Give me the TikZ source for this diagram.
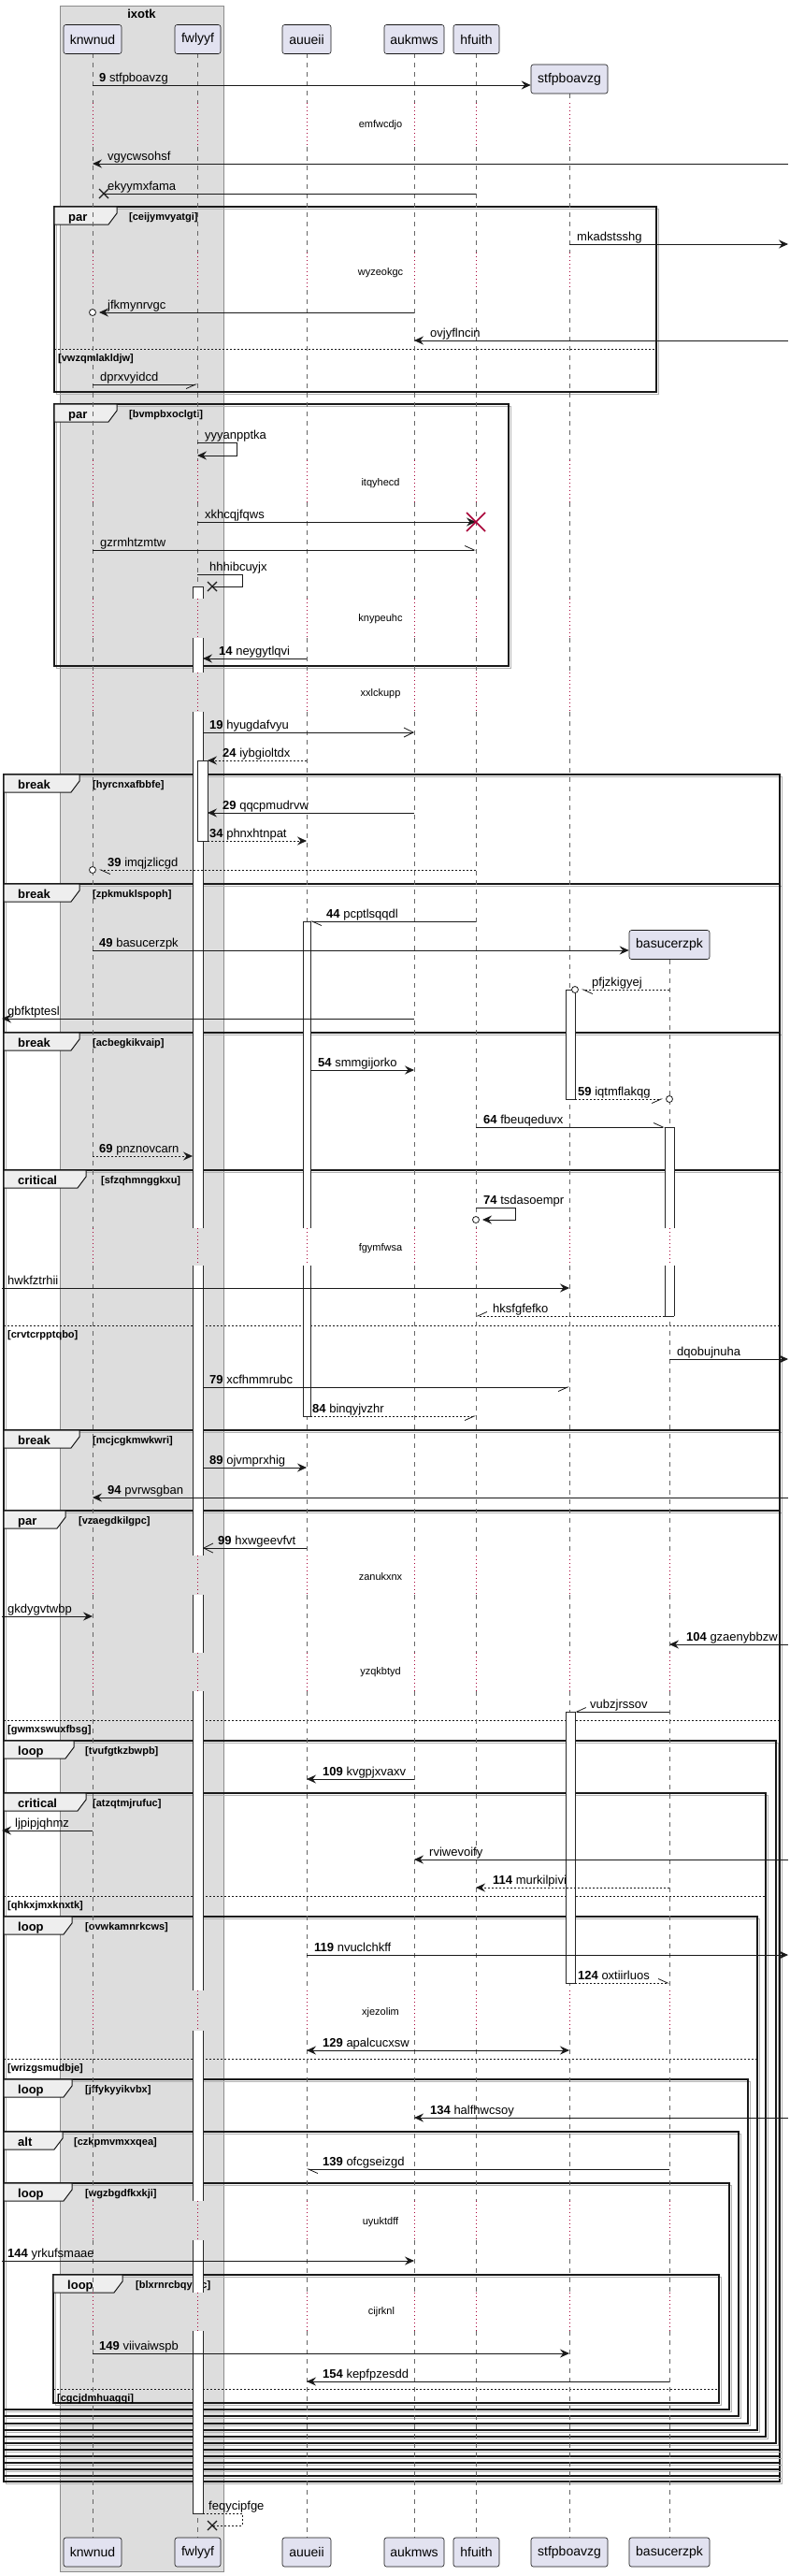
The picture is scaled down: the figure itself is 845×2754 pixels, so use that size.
\documentclass[tikz,border=0pt]{standalone}
\usepackage{fontspec}
\setmainfont{Liberation Sans}
\usetikzlibrary{arrows.meta}
\definecolor{partbg}{RGB}{226,226,240}
\definecolor{partfg}{RGB}{24,24,24}
\definecolor{boxbg}{RGB}{221,221,221}
\definecolor{dlyred}{RGB}{168,0,54}
\definecolor{tabbg}{RGB}{238,238,238}
\newcounter{mlab}
\newcommand\nb[1]{\textbf{#1}~}
\newcommand\msg[6]{\draw[ln,#4] (#2 |- 0,#1) -- (#3 |- 0,#1);\stepcounter{mlab}\node[lbl] (ml\arabic{mlab}) at (#5,#1-4) {#6};}
\newcommand\frm[9]{%
 \draw[frsh] (#2+2,#3+2) rectangle (#4+2,#5+2);
 \draw[frl] (#2,#3) rectangle (#4,#5);
 \draw[tabl] (#2,#3) -- (#6,#3) -- (#6,#3+7) -- (#6-9,#3+19) -- (#2,#3+19) -- cycle;
 \node[kw] (#1k) at (#2+15,#3+15) {#7};
 \node[glbl] (#1l) at (#9,#3+14) {[#8]};}
\newcommand\els[5]{\draw[elsl] (#1,#3) -- (#2,#3);\node[glbl] (#4) at (#1+4,#3+13) {[#5]};}
\newcommand\lifeline[2]{%
 \foreach \ya/\yb in {57/110,157/270,310/492,537/640,682/719,761/1313,1353/1663,1705/1767,1808/2128,2171/2353,2395/2451,2492/2713}{%
   \ifdim\yb pt>#2pt
     \pgfmathsetmacro\lla{max(\ya,#2)}%
     \draw[lifel] (#1|-0,\lla) -- (#1|-0,\yb);%
   \fi}%
 \foreach \ya/\yb in {110/157,270/310,492/537,640/682,719/761,1313/1353,1663/1705,1767/1808,2128/2171,2353/2395,2451/2492}{%
   \ifdim\ya pt>#2pt \draw[dlyl] (#1|-0,\ya) -- (#1|-0,\yb);\fi}}
\newcommand\actseg[4]{\fill[white] (#1,#3) rectangle (#2,#4);\draw[actl] (#1,#3) -- (#1,#4) (#2,#3) -- (#2,#4);}
\newcommand\actcap[3]{\draw[actl] (#1,#3) -- (#2,#3);}
\newcommand\lostx[1]{\draw[line width=1.3pt,black!90] ([shift={(-5,-5)}]#1) -- ([shift={(5,5)}]#1) ([shift={(-5,5)}]#1) -- ([shift={(5,-5)}]#1);}
\newcommand\tipcirc[1]{\draw[line width=0.8pt,black!90,fill=white] (#1) circle[radius=3.5pt];}
\begin{document}
\begin{tikzpicture}[x=1pt,y=-1pt,
 part/.style={draw=partfg,fill=partbg,rounded corners=2.5pt,line width=0.6pt,inner sep=0pt,minimum height=31pt,font=\fontsize{14}{16}\selectfont},
 lbl/.style={anchor=base west,inner sep=0pt,font=\fontsize{13}{15}\selectfont},
 dly/.style={inner sep=0pt,font=\fontsize{11}{13}\selectfont},
 kw/.style={anchor=base west,inner sep=0pt,font=\bfseries\fontsize{13}{15}\selectfont},
 glbl/.style={anchor=base west,inner sep=0pt,font=\bfseries\fontsize{11}{13}\selectfont},
 lifel/.style={draw=black!60,line width=0.5pt,dash pattern=on 5pt off 5pt},
 dlyl/.style={draw=dlyred,line width=0.7pt,dash pattern=on 1pt off 3pt},
 actl/.style={draw=black!85,line width=0.7pt},
 frl/.style={draw=black!90,line width=1.5pt},
 frsh/.style={draw=black!30,line width=1pt},
 tabl/.style={draw=black!90,line width=1pt,fill=tabbg},
 elsl/.style={draw=black!90,line width=0.8pt,dash pattern=on 2pt off 2pt},
 ln/.style={draw=black!90,line width=0.8pt},
 afill/.style={-{Stealth[length=10pt,width=9pt,inset=3.5pt]}},
 aopen/.style={-{Straight Barb[length=10pt,width=10pt]}},
 ahl/.style={-{Straight Barb[left,length=10pt,width=9pt]}},
 ahr/.style={-{Straight Barb[right,length=10pt,width=9pt]}},
 abi/.style={{Stealth[length=10pt,width=9pt,inset=3.5pt]}-{Stealth[length=10pt,width=9pt,inset=3.5pt]}},
 adash/.style={dash pattern=on 2pt off 2pt}]
\useasboundingbox (0,0) rectangle (845,2754);
\fill[white] (0,0) rectangle (845,2754);
% lifeline x positions
\coordinate (Lkn) at (99,0);
\coordinate (Lfw) at (211,0);
\coordinate (Lau) at (328,0);
\coordinate (Lak) at (443,0);
\coordinate (Lhf) at (509,0);
\coordinate (Lst) at (609,0);
\coordinate (Lba) at (716,0);
\coordinate (Ledge) at (2,0);
\coordinate (Redge) at (843,0);
\coordinate (AfwL) at (206,0);
\coordinate (AfwR) at (217,0);
\coordinate (AfnR) at (222,0);
\coordinate (AauR) at (332,0);
\coordinate (AstR) at (615,0);
\coordinate (AbaL) at (711,0);
\coordinate (Ckn) at (106,0);
\coordinate (Cst) at (622,0);
\coordinate (Cba) at (709,0);
\coordinate (Chf) at (516,0);
% box ixotk
\draw[draw=black!45,fill=boxbg,line width=0.5pt] (64,6) rectangle (239,2749);
\node[kw,anchor=base] (Tix) at (151.5,20) {ixotk};
% frames
\frm{Fa}{58}{221}{702}{419}{125}{par}{ceijymvyatgi}{138}
\els{58}{702}{373}{Ea}{vwzqmlakldjw}
\frm{Fb}{58}{432}{544}{712}{125}{par}{bvmpbxoclgti}{138}
\frm{Fc}{4}{828}{834}{2653}{85}{break}{hyrcnxafbbfe}{99}
\frm{Fd}{4}{945}{834}{2647}{85}{break}{zpkmuklspoph}{99}
\frm{Fe}{4}{1104}{834}{2640}{85}{break}{acbegkikvaip}{99}
\frm{Ff}{4}{1251}{834}{2633}{92}{critical}{sfzqhmnggkxu}{108}
\els{4}{834}{1417}{Ef}{crvtcrpptqbo}
\frm{Fg}{4}{1529}{834}{2626}{85}{break}{mcjcgkmwkwri}{99}
\frm{Fh}{4}{1615}{834}{2619}{70}{par}{vzaegdkilgpc}{84}
\els{4}{834}{1839}{Eh}{gwmxswuxfbsg}
\frm{Fi}{4}{1861}{830}{2612}{79}{loop}{tvufgtkzbwpb}{91}
\frm{Fj}{4}{1917}{819}{2605}{92}{critical}{atzqtmjrufuc}{99}
\els{4}{819}{2027}{Ej}{qhkxjmxknxtk}
\frm{Fk}{4}{2049}{810}{2598}{77}{loop}{ovwkamnrkcws}{91}
\els{4}{810}{2201}{Ek}{wrizgsmudbje}
\frm{Fl}{4}{2223}{800}{2591}{77}{loop}{jffykyyikvbx}{91}
\frm{Fm}{4}{2279}{790}{2583}{67}{alt}{czkpmvmxxqea}{79}
\frm{Fn}{4}{2334}{780}{2576}{77}{loop}{wgzbgdfkxkji}{91}
\frm{Fo}{57}{2432}{769}{2569}{131}{loop}{blxrnrcbqymc}{145}
\els{57}{769}{2554}{Eo}{cgcjdmhuagqi}
% lifelines
\lifeline{Lkn}{57}
\lifeline{Lfw}{57}
\lifeline{Lau}{57}
\lifeline{Lak}{57}
\lifeline{Lhf}{57}
\lifeline{Lst}{100}
\lifeline{Lba}{1026}
% activations
\foreach \ya/\yb in {627/640,682/719,761/1313,1353/1663,1705/1767,1808/2128,2171/2353,2395/2451,2492/2687}{\actseg{206}{217}{\ya}{\yb}}
\actcap{206}{217}{627}\actcap{206}{217}{2687}
\actseg{211}{222}{813}{899}\actcap{211}{222}{813}\actcap{211}{222}{899}
\actseg{324}{332}{985}{1313}\actseg{324}{332}{1353}{1514}\actcap{324}{332}{985}\actcap{324}{332}{1514}
\actseg{605}{615}{1058}{1175}\actcap{605}{615}{1058}\actcap{605}{615}{1175}
\actseg{605}{615}{1830}{2120}\actcap{605}{615}{1830}\actcap{605}{615}{2120}
\actseg{711}{721}{1205}{1313}\actseg{711}{721}{1353}{1407}\actcap{711}{721}{1205}\actcap{711}{721}{1407}
% participants
\node[part,minimum width=62pt] (Hkn) at (99,42) {knwnud};
\node[part,minimum width=49pt] (Hfw) at (211.5,42) {fwlyyf};
\node[part,minimum width=52pt] (Hau) at (328,42) {auueii};
\node[part,minimum width=64pt] (Hak) at (443,42) {aukmws};
\node[part,minimum width=49pt] (Hhf) at (509.5,42) {hfuith};
\node[part,minimum width=82pt] (Hst) at (609,84.5) {stfpboavzg};
\node[part,minimum width=86pt] (Hba) at (716,1010) {basucerzpk};
\node[part,minimum width=62pt] (Gkn) at (99,2728.5) {knwnud};
\node[part,minimum width=49pt] (Gfw) at (211.5,2728.5) {fwlyyf};
\node[part,minimum width=52pt] (Gau) at (328,2728.5) {auueii};
\node[part,minimum width=64pt] (Gak) at (443,2728.5) {aukmws};
\node[part,minimum width=49pt] (Ghf) at (509.5,2728.5) {hfuith};
\node[part,minimum width=82pt] (Gst) at (609,2728.5) {stfpboavzg};
\node[part,minimum width=86pt] (Gba) at (716,2728.5) {basucerzpk};
% messages
\msg{91}{Lkn}{Hst.west}{afill}{106}{\nb{9}stfpboavzg}
\msg{175}{Redge}{Lkn}{afill}{115}{vgycwsohsf}
\coordinate (LXe) at (111,207);
\draw[ln] (Lhf|-0,207) -- (LXe);\lostx{LXe}
\node[lbl] (mlE) at (115,203) {ekyymxfama};
\msg{261}{Lst}{Redge}{afill}{617}{mkadstsshg}
\draw[ln,afill] (Lak|-0,334) -- (Ckn|-0,334);\tipcirc{Lkn|-0,334}
\node[lbl] (mlJ) at (115,330) {jfkmynrvgc};
\msg{364}{Redge}{Lak}{afill}{460}{ovjyflncin}
\msg{411}{Lkn}{Lfw}{ahr}{107}{dprxvyidcd}
\draw[ln,afill] (Lfw|-0,473) -- ++(42,0) -- ++(0,14) -- (Lfw|-0,487);
\node[lbl] (mlY) at (219,469) {yyyanpptka};
\msg{558}{Lfw}{Lhf}{afill}{219}{xkhcqjfqws}
\coordinate (DXh) at (509,558);
\draw[dlyred,line width=1.6pt] ([shift={(-10,-10)}]DXh) -- ([shift={(10,10)}]DXh) ([shift={(-10,10)}]DXh) -- ([shift={(10,-10)}]DXh);
\msg{588}{Lkn}{Lhf}{ahl}{107}{gzrmhtzmtw}
\coordinate (LXh) at (227,627);
\draw[ln] (Lfw|-0,614) -- ++(48,0) -- ++(0,13) -- (LXh);\lostx{LXh}
\node[lbl] (mlH) at (224,610) {hhhibcuyjx};
\msg{704}{Lau}{AfwR}{afill}{234}{\nb{14}neygytlqvi}
\msg{783}{AfwR}{Lak}{aopen}{224}{\nb{19}hyugdafvyu}
\msg{813}{Lau}{AfnR}{afill,adash}{238}{\nb{24}iybgioltdx}
\msg{869}{Lak}{AfnR}{afill}{238}{\nb{29}qqcpmudrvw}
\msg{899}{AfnR}{Lau}{afill,adash}{224}{\nb{34}phnxhtnpat}
\draw[ln,adash,ahl] (Lhf|-0,930) -- (Ckn|-0,930);\tipcirc{Lkn|-0,930}
\node[lbl] (mlI) at (115,926) {\nb{39}imqjzlicgd};
\msg{985}{Lhf}{AauR}{ahl}{349}{\nb{44}pcptlsqqdl}
\msg{1016}{Lkn}{Hba.west}{afill}{106}{\nb{49}basucerzpk}
\draw[ln,adash,ahl] (Lba|-0,1058) -- (Cst|-0,1058);\tipcirc{AstR|-0,1058}
\node[lbl] (mlP) at (633,1054) {pfjzkigyej};
\msg{1089}{Lak}{Ledge}{afill}{8}{gbfktptesl}
\msg{1144}{AauR}{Lak}{afill}{340}{\nb{54}smmgijorko}
\draw[ln,adash,ahr] (AstR|-0,1175) -- (Cba|-0,1175);\tipcirc{Lba|-0,1175}
\node[lbl] (mlQ) at (618,1171) {\nb{59}iqtmflakqg};
\msg{1205}{Lhf}{AbaL}{ahl}{517}{\nb{64}fbeuqeduvx}
\msg{1236}{Lkn}{AfwL}{afill,adash}{106}{\nb{69}pnznovcarn}
\draw[ln,afill] (Lhf|-0,1291) -- ++(42,0) -- ++(0,13) -- (Chf|-0,1304);\tipcirc{Lhf|-0,1304}
\node[lbl] (mlT) at (517,1287) {\nb{74}tsdasoempr};
\msg{1377}{Ledge}{Lst}{afill}{8}{hwkfztrhii}
\msg{1407}{AbaL}{Lhf}{ahr,adash}{527}{hksfgfefko}
\msg{1453}{Lba}{Redge}{afill}{724}{dqobujnuha}
\msg{1483}{AfwR}{Lst}{ahr}{224}{\nb{79}xcfhmmrubc}
\msg{1514}{AauR}{Lhf}{ahr,adash}{334}{\nb{84}binqyjvzhr}
\msg{1569}{AfwR}{Lau}{afill}{224}{\nb{89}ojvmprxhig}
\msg{1601}{Redge}{Lkn}{afill}{115}{\nb{94}pvrwsgban}
\msg{1655}{Lau}{AfwR}{aopen}{233}{\nb{99}hxwgeevfvt}
\msg{1728}{Ledge}{Lkn}{afill}{8}{gkdygvtwbp}
\msg{1758}{Redge}{Lba}{afill}{734}{\nb{104}gzaenybbzw}
\msg{1830}{Lba}{AstR}{ahr}{631}{vubzjrssov}
\msg{1902}{Lak}{Lau}{afill}{345}{\nb{109}kvgpjxvaxv}
\msg{1957}{Lkn}{Ledge}{afill}{16}{ljpipjqhmz}
\msg{1988}{Redge}{Lak}{afill}{459}{rviwevoify}
\msg{2018}{Lba}{Lhf}{afill,adash}{527}{\nb{114}murkilpivi}
\msg{2090}{Lau}{Redge}{afill}{336}{\nb{119}nvuclchkff}
\msg{2120}{AstR}{Lba}{ahl,adash}{618}{\nb{124}oxtiirluos}
\msg{2192}{Lau}{Lst}{abi}{345}{\nb{129}apalcucxsw}
\msg{2264}{Redge}{Lak}{afill}{460}{\nb{134}halfhwcsoy}
\msg{2319}{Lba}{Lau}{ahl}{345}{\nb{139}ofcgseizgd}
\msg{2417}{Ledge}{Lak}{afill}{8}{\nb{144}yrkufsmaae}
\msg{2516}{Lkn}{Lst}{afill}{106}{\nb{149}viivaiwspb}
\msg{2546}{Lba}{Lau}{afill}{345}{\nb{154}kepfpzesdd}
\coordinate (LXf) at (227,2700);
\draw[ln,adash] (AfwR|-0,2687) -- ++(42,0) -- ++(0,13) -- (LXf);\lostx{LXf}
\node[lbl] (mlF) at (223,2683) {feqycipfge};
% delays
\node[dly] (D1) at (407,134) {emfwcdjo};
\node[dly] (D2) at (407,292) {wyzeokgc};
\node[dly] (D3) at (407,517) {itqyhecd};
\node[dly] (D4) at (407,662) {knypeuhc};
\node[dly] (D5) at (407,742) {xxlckupp};
\node[dly] (D6) at (407,1335) {fgymfwsa};
\node[dly] (D7) at (407,1686) {zanukxnx};
\node[dly] (D8) at (407,1788) {yzqkbtyd};
\node[dly] (D9) at (407,2152) {xjezolim};
\node[dly] (D10) at (407,2376) {uyuktdff};
\node[dly] (D11) at (408,2472) {cijrknl};
\end{tikzpicture}
\end{document}
